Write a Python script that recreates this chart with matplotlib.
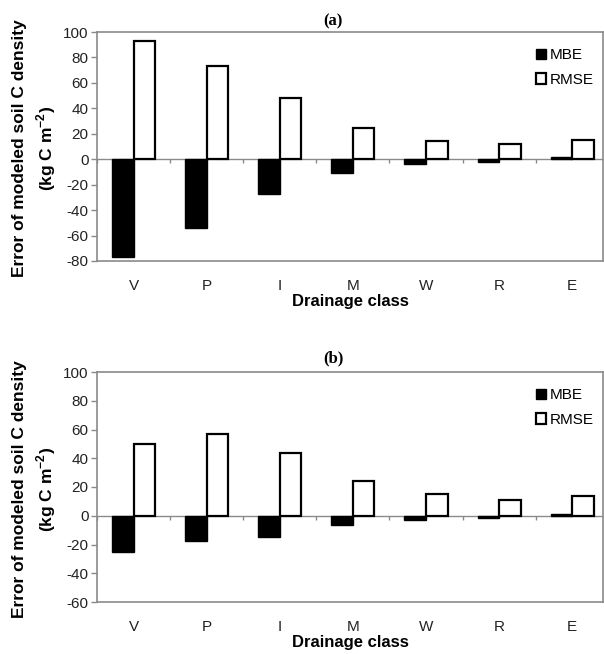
import matplotlib.pyplot as plt
import numpy as np
from matplotlib.patches import Patch

plt.rcParams['font.family'] = ['Liberation Sans', 'DejaVu Sans']
plt.rcParams['mathtext.fontset'] = 'custom'
plt.rcParams['mathtext.rm'] = 'Liberation Sans'
plt.rcParams['mathtext.bf'] = 'Liberation Sans:bold'
plt.rcParams['axes.unicode_minus'] = False

# 排水等級
classes = ["V", "P", "I", "M", "W", "R", "E"]

# (a)
mbe_a = [-77, -54, -27.5, -10.5, -3.7, -1.8, 1.5]
rmse_a = [93, 73, 48.5, 24.5, 14.7, 11.8, 15.2]

# (b)
mbe_b = [-25.4, -17.5, -15.1, -6.5, -3.2, -1.3, 1.5]
rmse_b = [50, 57, 43.4, 24.3, 15, 11, 13.8]

GRAY = "#8a8a8a"
W = 0.295


def panel(ax, mbe, rmse, ymin, ymax):
    x = np.arange(len(classes))
    ax.bar(x - W/2, mbe, W, color="black", edgecolor="black", linewidth=1.0)
    ax.bar(x + W/2, rmse, W, color="white", edgecolor="black", linewidth=1.6)
    ax.set_xlim(-0.5, 6.42)
    ax.set_ylim(ymin, ymax)
    ax.set_yticks(np.arange(ymin, ymax + 1, 20))
    ax.set_xticks(x)
    ax.set_xticklabels(classes)
    ax.tick_params(axis="x", length=0, pad=13, labelsize=11, colors="#222222")
    ax.tick_params(axis="y", direction="out", length=4, width=1, color=GRAY,
                   pad=2, labelsize=11, labelcolor="#222222")
    for s in ax.spines.values():
        s.set_color(GRAY)
        s.set_linewidth(1.2)
    # 零線 + 類別分隔刻度
    sec = ax.secondary_xaxis((0 - ymin) / (ymax - ymin))
    sec.set_xticks(np.arange(len(classes) + 1) - 0.5)
    sec.set_xticklabels([])
    sec.tick_params(direction="out", length=3, width=1, color=GRAY)
    sec.spines["bottom"].set_color(GRAY)
    sec.spines["bottom"].set_linewidth(1.0)
    ax.set_xlabel("Drainage class", fontsize=12, fontweight="bold", labelpad=1)
    handles = [Patch(facecolor="black", edgecolor="black"),
               Patch(facecolor="white", edgecolor="black", linewidth=1.6)]
    ax.legend(handles, ["MBE", "RMSE"], loc="upper left",
              bbox_to_anchor=(0.855, 0.955), frameon=False, fontsize=11,
              handlelength=0.7, handleheight=0.7, handletextpad=0.2,
              labelspacing=0.7, borderaxespad=0)


fig = plt.figure(figsize=(6.04, 6.54), dpi=100)
ax1 = fig.add_axes([97/604, 1 - 261/654, 506/604, 229/654])
ax2 = fig.add_axes([97/604, 1 - 602/654, 506/604, 230/654])

panel(ax1, mbe_a, rmse_a, -80, 100)
panel(ax2, mbe_b, rmse_b, -60, 100)

for ycen in [148, 489]:
    fig.text(20/604, 1 - ycen/654, "Error of modeled soil C density",
             rotation=90, ha="center", va="center", fontsize=12.5,
             fontweight="bold")
    fig.text(46/604, 1 - ycen/654, r"(kg C m$^{\mathbf{-2}}$)",
             rotation=90, ha="center", va="center", fontsize=12.5,
             fontweight="bold")

fig.text(333/604, 1 - 21/654, "(a)", ha="center", va="center",
         fontsize=12, fontweight="bold", family="Liberation Serif")
fig.text(333/604, 1 - 358/654, "(b)", ha="center", va="center",
         fontsize=12, fontweight="bold", family="Liberation Serif")

fig.savefig("out.png", dpi=100)
